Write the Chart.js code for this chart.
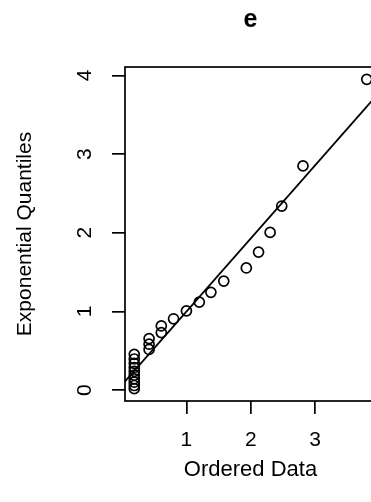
<!DOCTYPE html>
<html>
<head>
<meta charset="utf-8">
<script src="https://cdn.jsdelivr.net/npm/chart.js@4/dist/chart.umd.min.js"></script>
<style>
  html, body { margin: 0; padding: 0; background: #fff; overflow: hidden; }
</style>
</head>
<body>
<canvas id="qqChart" width="390" height="502"></canvas>
<script>
// ordered sample vs exponential quantiles
const orderedData = [0.19, 0.19, 0.19, 0.19, 0.19, 0.19, 0.19, 0.19, 0.19, 0.19,
    0.42, 0.42, 0.42, 0.61, 0.61, 0.80, 1.00, 1.20, 1.38, 1.58,
    1.93, 2.12, 2.30, 2.48, 2.81, 3.80];
const expQuantiles = [0.019, 0.059, 0.101, 0.144, 0.190, 0.238, 0.288, 0.341, 0.396, 0.455,
    0.517, 0.584, 0.655, 0.732, 0.816, 0.907, 1.007, 1.118, 1.243, 1.386,
    1.553, 1.754, 2.005, 2.340, 2.850, 3.950];

// reference line
const lineIntercept = 0.07;
const lineSlope = 0.93;
const lineX = [0, 4.5];

const xRange = [0.046, 3.944];
const yRange = [-0.138, 4.107];

const points = orderedData.map((v, i) => ({x: v, y: expQuantiles[i]}));
const linePts = lineX.map(v => ({x: v, y: lineIntercept + lineSlope * v}));

Chart.defaults.font.family = "'Liberation Sans', Arial, sans-serif";
Chart.defaults.color = "#000";

// frame round the plot region
const boxPlugin = {
    id: 'box',
    afterDraw(chart) {
        const a = chart.chartArea;
        const ctx = chart.ctx;
        ctx.save();
        ctx.strokeStyle = "#000";
        ctx.lineWidth = 1.7;
        ctx.strokeRect(a.left, a.top, a.right - a.left, a.bottom - a.top);
        ctx.restore();
    }
};

new Chart("qqChart", {
    type: "scatter",
    data: {
        datasets: [{
            data: points,
            pointStyle: "circle",
            pointRadius: 5,
            pointHoverRadius: 5,
            borderColor: "#000",
            borderWidth: 1.7,
            backgroundColor: "rgba(0,0,0,0)"
        }, {
            type: "line",
            data: linePts,
            borderColor: "#000",
            borderWidth: 1.8,
            pointRadius: 0,
            fill: false
        }]
    },
    options: {
        responsive: false,
        animation: false,
        layout: { padding: { left: 0, top: 0, right: 14, bottom: 0 } },
        plugins: {
            legend: { display: false },
            tooltip: { enabled: false },
            title: {
                display: true,
                text: "e",
                fullSize: false,
                font: { size: 25, weight: "bold" },
                padding: { top: 5, bottom: 32 }
            }
        },
        scales: {
            x: {
                type: "linear",
                min: xRange[0],
                max: xRange[1],
                afterFit(scale) { scale.height = 101; },
                border: { display: false },
                grid: { drawOnChartArea: false, drawTicks: true, tickLength: 13, color: "#000", lineWidth: 1.7 },
                ticks: { stepSize: 1, includeBounds: false, font: { size: 21 }, padding: 14 },
                title: { display: true, text: "Ordered Data", font: { size: 22 }, padding: { top: 0, bottom: 19 } }
            },
            y: {
                type: "linear",
                min: yRange[0],
                max: yRange[1],
                afterFit(scale) { scale.width = 125; },
                border: { display: false },
                grid: { drawOnChartArea: false, drawTicks: true, tickLength: 13, color: "#000", lineWidth: 1.7 },
                ticks: { stepSize: 1, includeBounds: false, font: { size: 21 }, padding: 21,
                         minRotation: 90, maxRotation: 90, crossAlign: "center" },
                title: { display: true, text: "Exponential Quantiles", font: { size: 21 }, padding: { top: 13, bottom: 0 } }
            }
        }
    },
    plugins: [boxPlugin]
});
</script>
</body>
</html>
